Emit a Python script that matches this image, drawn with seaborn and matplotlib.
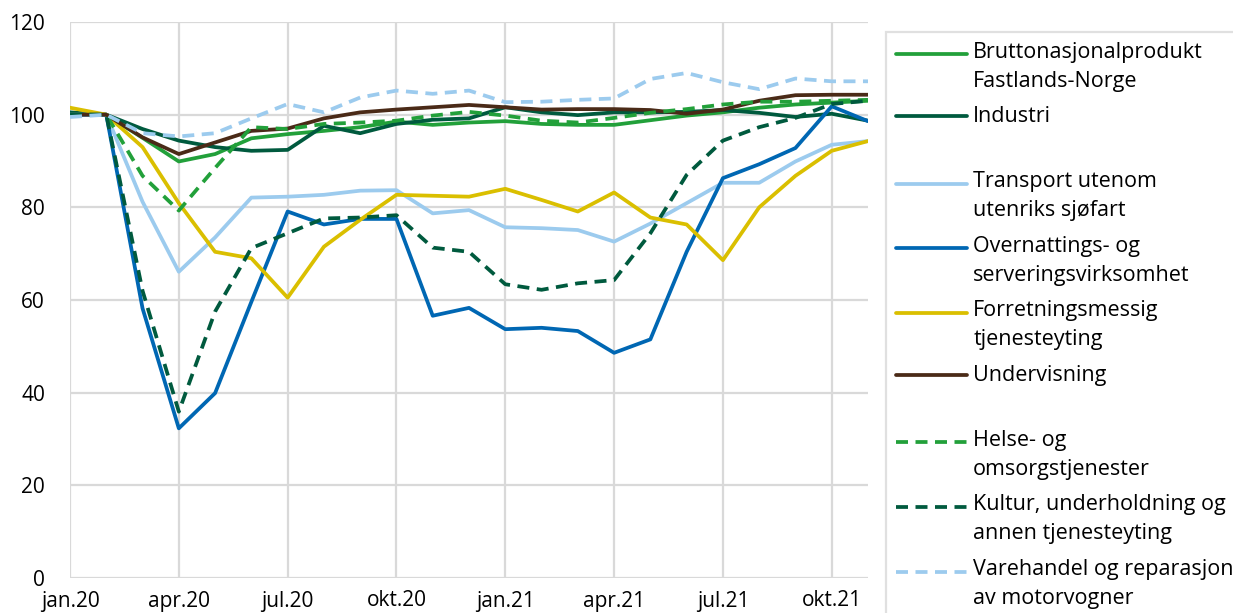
import numpy as np
import pandas as pd
import seaborn as sns
import matplotlib.pyplot as plt
from matplotlib.lines import Line2D
from matplotlib.legend_handler import HandlerLine2D

# månedlige data, jan.20 - nov.21 (indeks, feb.20 = 100)
months = ["jan.20", "feb.20", "mar.20", "apr.20", "mai.20", "jun.20", "jul.20", "aug.20",
          "sep.20", "okt.20", "nov.20", "des.20", "jan.21", "feb.21", "mar.21", "apr.21",
          "mai.21", "jun.21", "jul.21", "aug.21", "sep.21", "okt.21", "nov.21"]
tick_labels = ["jan.20", "apr.20", "jul.20", "okt.20", "jan.21", "apr.21", "jul.21", "okt.21"]

bnp = [100.3, 100, 95, 89.9, 91.5, 94.9, 95.8, 96.5, 97.3, 98.5, 97.8, 98.3,
       98.6, 98, 97.8, 97.8, 98.8, 99.8, 100.5, 101.5, 102.2, 102.6, 103]
industri = [100.5, 100, 96.9, 94.4, 93, 92.2, 92.4, 97.6, 96, 98, 98.9, 99.2,
            101.6, 100.5, 99.9, 100.5, 100.5, 100.6, 101, 100.4, 99.5, 100.2, 98.7]
transport = [100, 100, 81.2, 66.1, 73.5, 82.1, 82.3, 82.7, 83.6, 83.7, 78.7, 79.4,
             75.7, 75.5, 75.1, 72.6, 76.5, 80.9, 85.3, 85.3, 89.9, 93.5, 94.3]
overnatting = [100, 100, 58.2, 32.3, 39.9, 59.6, 79.1, 76.3, 77.5, 77.5, 56.6, 58.3,
               53.7, 54, 53.3, 48.6, 51.5, 70.4, 86.3, 89.3, 92.8, 101.8, 98.6]
forretning = [101.5, 100, 93, 80.9, 70.4, 69, 60.5, 71.5, 77.3, 82.7, 82.5, 82.3,
              84, 81.6, 79.1, 83.2, 77.8, 76.3, 68.6, 80, 86.8, 92.2, 94.3]
undervisning = [100, 100, 95.1, 91.5, 94, 96.5, 97, 99.2, 100.5, 101.1, 101.6, 102.1,
                101.6, 101.1, 101.2, 101.2, 101, 100.2, 101.1, 103, 104.2, 104.3, 104.3]
helse = [100, 100, 86.8, 79.3, 88.5, 97.3, 96.9, 98, 98.3, 98.7, 99.8, 100.6,
         99.8, 98.7, 98.3, 99.3, 100.4, 101.2, 102.2, 102.8, 102.8, 103, 103.2]
kultur = [100, 100, 62, 35.9, 57.5, 71.2, 74.4, 77.6, 77.8, 78.3, 71.3, 70.4,
          63.4, 62.2, 63.6, 64.3, 74.4, 87, 94.4, 97.3, 99.3, 102.3, 103]
varehandel = [99.5, 100, 96, 95.3, 96, 99.2, 102.3, 100.5, 103.7, 105.2, 104.5, 105.2,
              102.7, 102.8, 103.2, 103.5, 107.7, 109, 107, 105.5, 107.8, 107.2, 107.2]

DASH = (0, (3.2, 2.0))
series = [
    ("Bruttonasjonalprodukt\nFastlands-Norge", bnp, "#22a03a", "-"),
    ("Industri", industri, "#005a3e", "-"),
    (None, None, None, None),
    ("Transport utenom\nutenriks sjøfart", transport, "#9ccbee", "-"),
    ("Overnattings- og\nserveringsvirksomhet", overnatting, "#0067b3", "-"),
    ("Forretningsmessig\ntjenesteyting", forretning, "#dabf00", "-"),
    ("Undervisning", undervisning, "#4a2a17", "-"),
    (None, None, None, None),
    ("Helse- og\nomsorgstjenester", helse, "#22a03a", DASH),
    ("Kultur, underholdning og\nannen tjenesteyting", kultur, "#005a3e", DASH),
    ("Varehandel og reparasjon\nav motorvogner", varehandel, "#9ccbee", DASH),
]


class FirstLineHandler(HandlerLine2D):
    # flytter streken opp til første tekstlinje
    def __init__(self, shift=0, **kw):
        super().__init__(**kw)
        self.shift = shift

    def create_artists(self, legend, orig_handle, xdescent, ydescent, width, height, fontsize, trans):
        arts = super().create_artists(legend, orig_handle, xdescent, ydescent, width, height, fontsize, trans)
        for a in arts:
            a.set_ydata(np.asarray(a.get_ydata()) + self.shift)
        return arts


sns.set_theme(style="white")
plt.rcParams["font.family"] = ["Open Sans", "DejaVu Sans"]

fig = plt.figure(figsize=(12.33, 6.13), dpi=100)
ax = fig.add_axes([70 / 1233, 1 - 578 / 613, 798 / 1233, 556 / 613])

x = np.arange(len(months))
handles = []
hmap = {}
for label, vals, color, ls in series:
    if label is None:
        h = Line2D([], [], color="none", label=" ")
        handles.append(h)
        continue
    df = pd.DataFrame({"m": x, "v": vals})
    sns.lineplot(data=df, x="m", y="v", ax=ax, color=color, linewidth=2.7,
                 linestyle=ls, legend=False)
    h = Line2D([], [], color=color, linewidth=2.7, linestyle=ls, label=label)
    handles.append(h)
    if "\n" in label:
        hmap[h] = FirstLineHandler(shift=10.3)

ax.set_xlim(0, 22)
ax.set_ylim(0, 120)
ax.set_xticks(np.arange(0, 22, 3))
ax.set_xticklabels(tick_labels)
ax.set_yticks(np.arange(0, 121, 20))
ax.set_xlabel("")
ax.set_ylabel("")
ax.grid(True, color="#d9d9d9", linewidth=1.6)
ax.set_axisbelow(True)
for s in ax.spines.values():
    s.set_visible(False)
ax.tick_params(axis="both", length=0, labelsize=15, colors="#000000")
ax.tick_params(axis="y", pad=18)
ax.tick_params(axis="x", pad=9)

leg = fig.legend(handles=handles, handler_map=hmap, loc="upper left",
                 bbox_to_anchor=(886 / 1233, 1 - 32 / 613),
                 bbox_transform=fig.transFigure, frameon=True, fancybox=False,
                 edgecolor="#d9d9d9", fontsize=15.5, handlelength=3.3, handletextpad=0.3,
                 handleheight=0.3, labelspacing=0.68, borderpad=0.45, borderaxespad=0)
leg.get_frame().set_linewidth(1.6)
for t in leg.get_texts():
    t.set_linespacing(1.5)
    t.set_color("#000000")
    if t.get_text() == " ":
        t.set_fontsize(5)

fig.savefig("out.png", dpi=100)
